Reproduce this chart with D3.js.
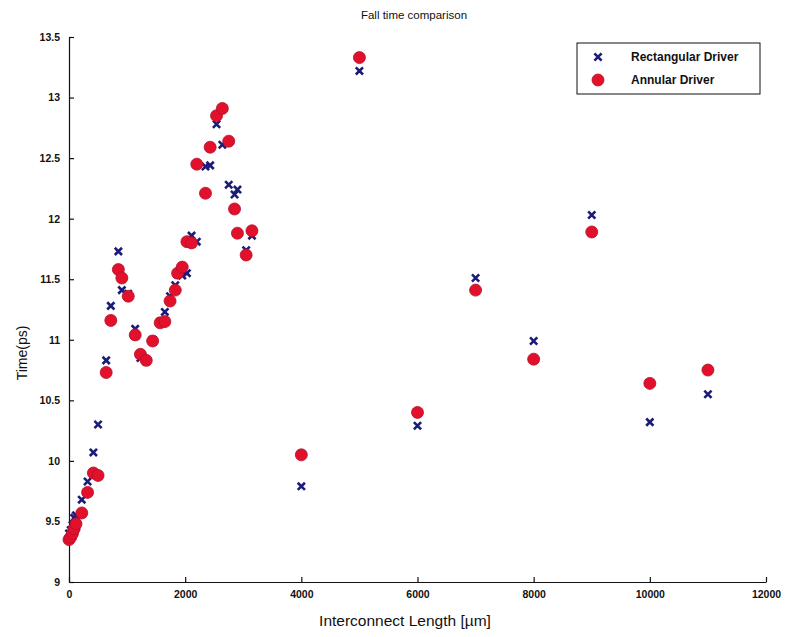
<!DOCTYPE html>
<html>
<head>
<meta charset="utf-8">
<script src="https://cdn.jsdelivr.net/npm/d3@7"></script>
<style>
  html, body { margin: 0; padding: 0; background: #fff; }
  svg { display: block; font-family: "Liberation Sans", Arial, sans-serif; }
</style>
</head>
<body>
<svg id="chart" width="787" height="637"></svg>
<script>
// Interconnect length (µm) for each simulated case
const lengths = [0, 30, 60, 90, 120, 220, 320, 420, 500, 640, 720, 850, 910, 1020, 1140, 1230, 1330, 1440,
  1570, 1650, 1740, 1830, 1870, 1950, 2030, 2110, 2200, 2350, 2430, 2540, 2640, 2750, 2850, 2900, 3050, 3150,
  4000, 5000, 6000, 7000, 8000, 9000, 10000, 11000];
// Fall time (ps), rectangular driver
const rectangular = [9.40, 9.43, 9.47, 9.53, 9.55, 9.68, 9.83, 10.07, 10.30, 10.83, 11.28, 11.73, 11.41, 11.38, 11.09, 10.85, 10.82, 11.00,
  11.15, 11.23, 11.36, 11.45, 11.54, 11.53, 11.55, 11.86, 11.81, 12.43, 12.44, 12.78, 12.61, 12.28, 12.20, 12.24, 11.74, 11.86,
  9.79, 13.22, 10.29, 11.51, 10.99, 12.03, 10.32, 10.55];
// Fall time (ps), annular driver
const annular = [9.35, 9.37, 9.40, 9.44, 9.48, 9.57, 9.74, 9.90, 9.88, 10.73, 11.16, 11.58, 11.51, 11.36, 11.04, 10.88, 10.83, 10.99,
  11.14, 11.15, 11.32, 11.41, 11.55, 11.60, 11.81, 11.80, 12.45, 12.21, 12.59, 12.85, 12.91, 12.64, 12.08, 11.88, 11.70, 11.90,
  10.05, 13.33, 10.40, 11.41, 10.84, 11.89, 10.64, 10.75];

const xTicks = [0, 2000, 4000, 6000, 8000, 10000, 12000];
const yTicks = [9, 9.5, 10, 10.5, 11, 11.5, 12, 12.5, 13, 13.5];
const seriesNames = ["Rectangular Driver", "Annular Driver"];

const svg = d3.select("#chart");
const m = { left: 69, right: 766, top: 37, bottom: 582 };

const x = d3.scaleLinear().domain([0, 12000]).range([m.left, m.right]);
const y = d3.scaleLinear().domain([9, 13.5]).range([m.bottom, m.top]);

const navy = "#1c1c78";
const red = "#e3102c";

// Axes: ticks point inward, no box
const xAxis = d3.axisBottom(x).tickValues(xTicks).tickSizeInner(-5).tickSizeOuter(0).tickPadding(9)
  .tickFormat(d3.format("d"));
const yAxis = d3.axisLeft(y).tickValues(yTicks).tickSizeInner(-5).tickSizeOuter(0).tickPadding(9)
  .tickFormat(d => String(d));

const gx = svg.append("g").attr("transform", `translate(0,${m.bottom})`).call(xAxis);
const gy = svg.append("g").attr("transform", `translate(${m.left},0)`).call(yAxis);
[gx, gy].forEach(g => {
  g.select(".domain").attr("stroke", "#111").attr("stroke-width", 1.2);
  g.selectAll(".tick line").attr("stroke", "#111").attr("stroke-width", 1.2);
  g.selectAll(".tick text").attr("fill", "#111").attr("font-size", 10.5).attr("font-weight", "bold")
    .attr("font-family", "'Liberation Sans', Arial, sans-serif");
});

// Rectangular driver: x markers
const xm = 3.6;
const rectG = svg.append("g");
lengths.forEach((L, i) => {
  const cx = x(L), cy = y(rectangular[i]);
  rectG.append("path")
    .attr("d", `M${cx - xm},${cy - xm}L${cx + xm},${cy + xm}M${cx - xm},${cy + xm}L${cx + xm},${cy - xm}`)
    .attr("stroke", navy).attr("stroke-width", 2.6).attr("fill", "none");
});

// Annular driver: filled red circles
svg.append("g").selectAll("circle").data(lengths).join("circle")
  .attr("cx", d => x(d))
  .attr("cy", (d, i) => y(annular[i]))
  .attr("r", 6)
  .attr("fill", red)
  .attr("stroke", "#b0102a")
  .attr("stroke-width", 0.8);

// Title and axis labels
svg.append("text").attr("x", 414).attr("y", 19).attr("text-anchor", "middle")
  .attr("font-size", 11.5).attr("fill", "#111").text("Fall time comparison");
svg.append("text").attr("x", 405).attr("y", 626).attr("text-anchor", "middle")
  .attr("font-size", 15.5).attr("fill", "#111").text("Interconnect Length [µm]");
svg.append("text").attr("transform", "translate(27,353) rotate(-90)").attr("text-anchor", "middle")
  .attr("font-size", 14).attr("fill", "#111").text("Time(ps)");

// Legend
const lg = svg.append("g");
lg.append("rect").attr("x", 577).attr("y", 43).attr("width", 183).attr("height", 51)
  .attr("fill", "#fff").attr("stroke", "#111").attr("stroke-width", 1);
const lx = 598, ly1 = 57, ly2 = 80;
lg.append("path")
  .attr("d", `M${lx - xm},${ly1 - xm}L${lx + xm},${ly1 + xm}M${lx - xm},${ly1 + xm}L${lx + xm},${ly1 - xm}`)
  .attr("stroke", navy).attr("stroke-width", 2.6);
lg.append("circle").attr("cx", lx).attr("cy", ly2).attr("r", 6).attr("fill", red)
  .attr("stroke", "#b0102a").attr("stroke-width", 0.8);
lg.selectAll("text.lab").data(seriesNames).join("text").attr("class", "lab")
  .attr("x", 631).attr("y", (d, i) => [ly1, ly2][i] + 4)
  .attr("font-size", 12).attr("font-weight", "bold").attr("fill", "#111").text(d => d);
</script>
</body>
</html>
